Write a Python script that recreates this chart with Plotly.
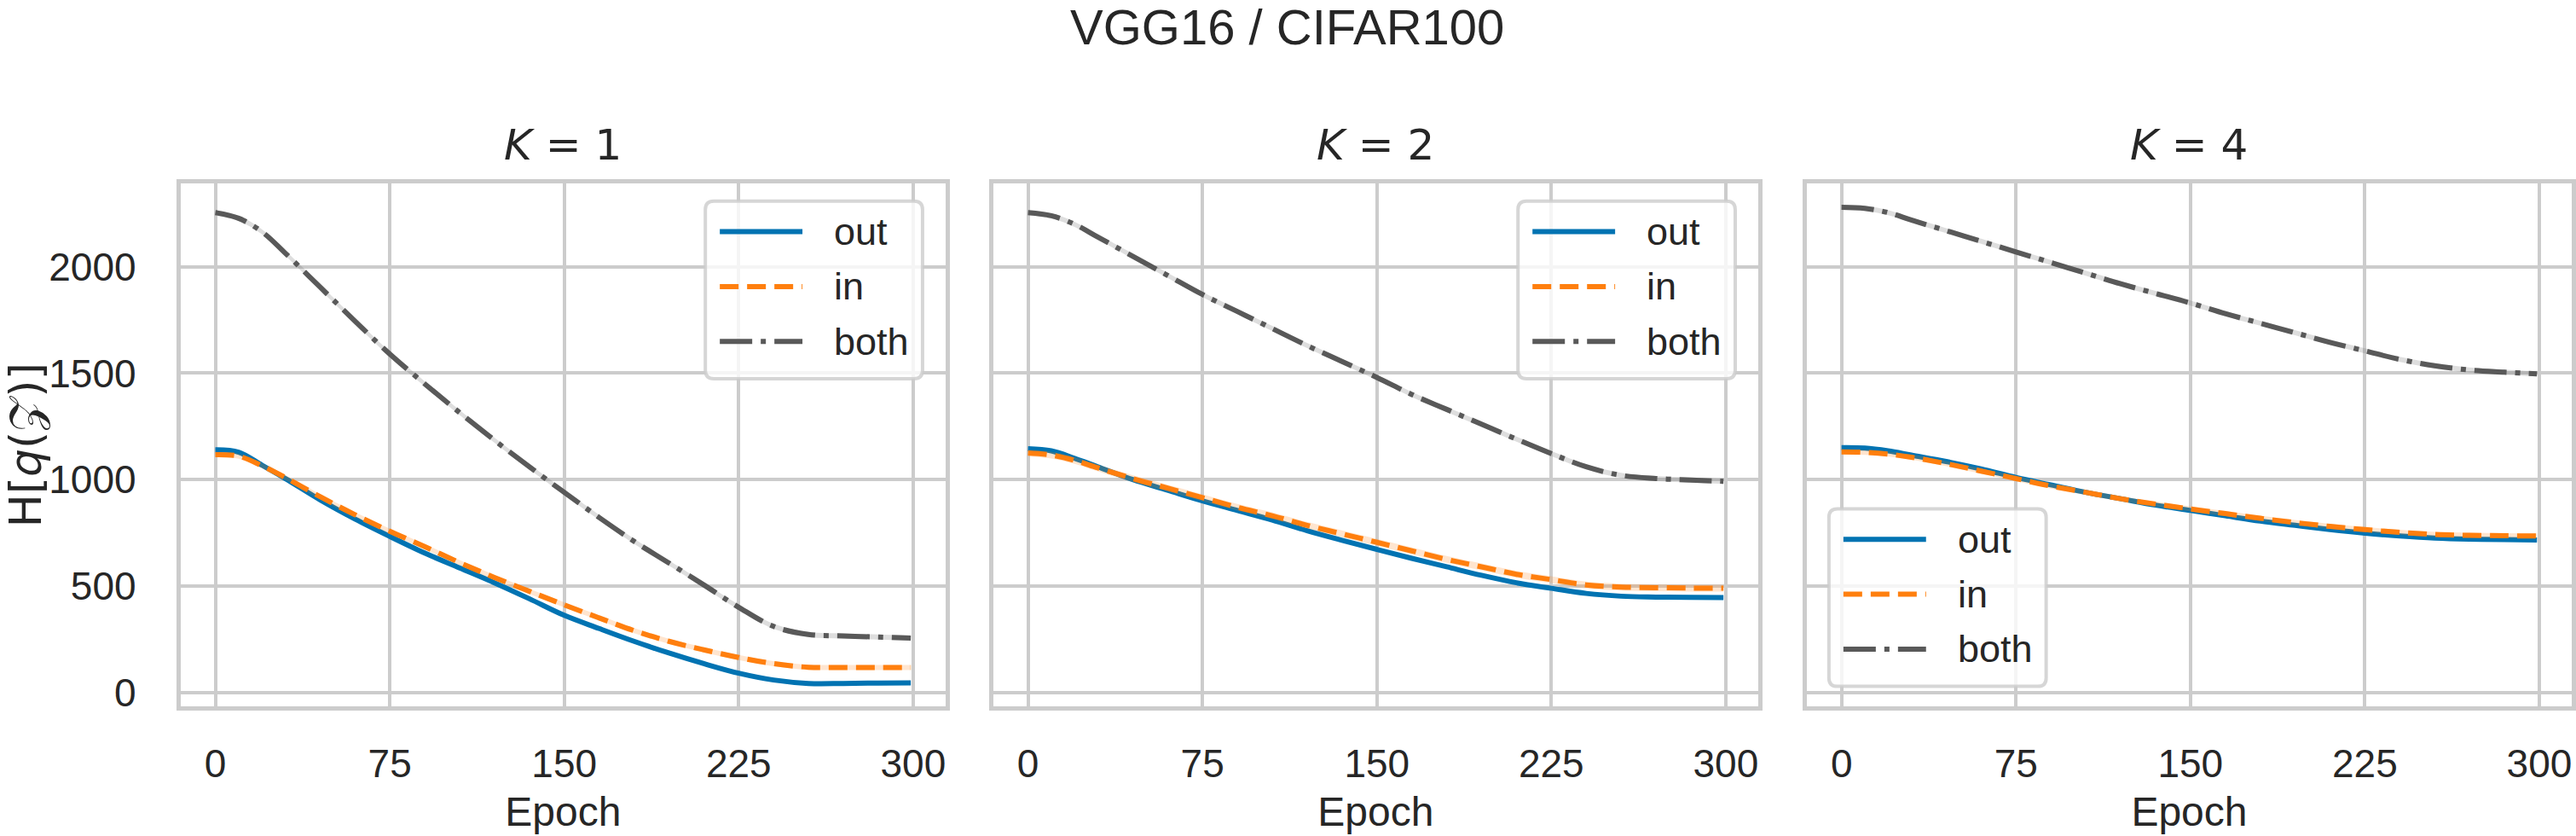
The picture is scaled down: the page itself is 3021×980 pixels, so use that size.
import plotly.graph_objects as go

W, H = 3021, 980

# ---------------- data ----------------
epochs = [0, 10, 20, 30, 45, 60, 75, 90, 105, 120, 135, 150, 165, 180, 195, 210,
          225, 240, 255, 270, 285, 299]

k_labels = ["1", "2", "4"]

out_k1 = [1140, 1129, 1068, 1005, 905, 815, 733, 655, 585, 515, 440, 362, 300, 240,
          185, 135, 90, 58, 42, 42, 44, 45]
in_k1 = [1117, 1110, 1065, 1010, 920, 835, 757, 685, 610, 540, 475, 411, 350, 290,
         240, 200, 164, 135, 118, 117, 117, 117]
both_k1 = [2255, 2228, 2165, 2065, 1905, 1745, 1590, 1450, 1315, 1185, 1060, 940, 822,
           710, 608, 505, 400, 310, 272, 265, 260, 255]

out_k2 = [1145, 1135, 1100, 1060, 1000, 950, 900, 855, 810, 760, 715, 672, 630, 590,
          550, 515, 489, 465, 452, 448, 446, 445]
in_k2 = [1125, 1115, 1090, 1055, 1005, 960, 915, 870, 830, 785, 745, 705, 665, 625,
         590, 555, 530, 505, 495, 492, 490, 490]
both_k2 = [2255, 2240, 2200, 2140, 2050, 1960, 1870, 1790, 1710, 1630, 1555, 1480, 1400,
           1330, 1260, 1190, 1122, 1060, 1020, 1005, 998, 992]

out_k4 = [1150, 1148, 1135, 1115, 1085, 1050, 1010, 975, 940, 910, 880, 855, 830, 805,
          785, 765, 748, 735, 725, 720, 718, 716]
in_k4 = [1130, 1128, 1120, 1105, 1075, 1040, 1005, 970, 940, 910, 885, 862, 840, 818,
         798, 780, 765, 752, 742, 738, 736, 735]
both_k4 = [2280, 2275, 2255, 2220, 2170, 2120, 2070, 2020, 1970, 1920, 1875, 1830, 1780,
           1735, 1690, 1645, 1605, 1565, 1535, 1515, 1505, 1497]

# half-width of the faint confidence band around each curve (data units)
band_out = [8, 8, 8]
band_in = [12, 16, 12]
band_both = [12, 12, 12]

series_names = ["out", "in", "both"]
x_ticks = [0, 75, 150, 225, 300]
y_ticks = [0, 500, 1000, 1500, 2000]

# ---------------- styling ----------------
COLORS = {"out": "#0173b2", "in": "#ff7f0e", "both": "#595959"}
BAND = {"out": "rgba(1,115,178,0.2)", "in": "rgba(255,127,14,0.2)",
        "both": "rgba(89,89,89,0.2)"}
DASH = {"out": "solid", "in": "22px,10px", "both": "38px,10px,6px,10px"}
LW = 6
TXT = "#262626"
GRID = "#cccccc"
FONT = "Arial, Liberation Sans, sans-serif"


def px(x):
    return x / W


def py(y):
    return 1 - y / H


panel_px = [(212, 1110), (1166, 2064), (2121, 3019)]
y_dom = [py(836), py(217)]
x_range = [-14.95, 313.95]
y_range = [-67, 2392]

data = [
    {"out": out_k1, "in": in_k1, "both": both_k1},
    {"out": out_k2, "in": in_k2, "both": both_k2},
    {"out": out_k4, "in": in_k4, "both": both_k4},
]
bands = [
    {"out": band_out[i], "in": band_in[i], "both": band_both[i]} for i in range(3)
]

fig = go.Figure()

for i in range(3):
    xa = "x" if i == 0 else f"x{i + 1}"
    ya = "y" if i == 0 else f"y{i + 1}"
    for name in series_names:
        vals = data[i][name]
        hw = bands[i][name]
        fig.add_trace(go.Scatter(
            x=epochs, y=[v + hw for v in vals], xaxis=xa, yaxis=ya, mode="lines",
            line=dict(width=0, shape="spline", color=COLORS[name]),
            showlegend=False, hoverinfo="skip"))
        fig.add_trace(go.Scatter(
            x=epochs, y=[v - hw for v in vals], xaxis=xa, yaxis=ya, mode="lines",
            line=dict(width=0, shape="spline", color=COLORS[name]),
            fill="tonexty", fillcolor=BAND[name], showlegend=False, hoverinfo="skip"))
        fig.add_trace(go.Scatter(
            x=epochs, y=vals, xaxis=xa, yaxis=ya, mode="lines", name=name,
            line=dict(width=LW, shape="spline", color=COLORS[name], dash=DASH[name]),
            showlegend=False))

axis_common = dict(
    showgrid=True, gridcolor=GRID, gridwidth=4, zeroline=False,
    showline=True, linecolor=GRID, linewidth=5, mirror=True,
    ticks="", tickfont=dict(family=FONT, size=46, color=TXT),
)

layout = dict(
    width=W, height=H, margin=dict(l=0, r=0, t=0, b=0),
    paper_bgcolor="white", plot_bgcolor="white", showlegend=False,
)
for i, (x0, x1) in enumerate(panel_px):
    xk = "xaxis" if i == 0 else f"xaxis{i + 1}"
    yk = "yaxis" if i == 0 else f"yaxis{i + 1}"
    ya_name = "y" if i == 0 else f"y{i + 1}"
    xa_name = "x" if i == 0 else f"x{i + 1}"
    layout[xk] = dict(
        axis_common, domain=[px(x0), px(x1)], range=x_range, anchor=ya_name,
        tickvals=x_ticks, ticklabelstandoff=22,
        title=dict(text="Epoch", font=dict(family=FONT, size=48, color=TXT), standoff=16),
    )
    ydict = dict(
        axis_common, domain=y_dom, range=y_range, anchor=xa_name,
        tickvals=y_ticks, showticklabels=(i == 0), ticklabelstandoff=38,
    )
    if i == 0:
        ydict["title"] = dict(text="H[<i>q</i>(\U0001D4B5)]",
                              font=dict(family="DejaVu Sans", size=52, color=TXT),
                              standoff=14)
    layout[yk] = ydict

fig.update_layout(**layout)

# suptitle and panel titles
fig.add_annotation(text="VGG16 / CIFAR100", x=0.5, y=py(32), xref="paper", yref="paper",
                   showarrow=False, xanchor="center", yanchor="middle",
                   font=dict(family=FONT, size=58, color=TXT))
for i, (x0, x1) in enumerate(panel_px):
    fig.add_annotation(text=f"<i>K</i> = {k_labels[i]}", x=px((x0 + x1) / 2), y=py(172),
                       xref="paper", yref="paper", showarrow=False,
                       xanchor="center", yanchor="middle",
                       font=dict(family="DejaVu Sans", size=50, color=TXT))

# legends (one per panel), drawn as boxes with line samples and text labels
legend_boxes = [(828, 238), (1782, 238), (2147, 602)]
LB_W, LB_H, R = 255, 210, 10
row_off = [36, 101, 166]


def rounded_rect(x0, y0, w, h, r):
    pts = [
        f"M {px(x0 + r)},{py(y0)}",
        f"L {px(x0 + w - r)},{py(y0)}",
        f"Q {px(x0 + w)},{py(y0)} {px(x0 + w)},{py(y0 + r)}",
        f"L {px(x0 + w)},{py(y0 + h - r)}",
        f"Q {px(x0 + w)},{py(y0 + h)} {px(x0 + w - r)},{py(y0 + h)}",
        f"L {px(x0 + r)},{py(y0 + h)}",
        f"Q {px(x0)},{py(y0 + h)} {px(x0)},{py(y0 + h - r)}",
        f"L {px(x0)},{py(y0 + r)}",
        f"Q {px(x0)},{py(y0)} {px(x0 + r)},{py(y0)}",
        "Z",
    ]
    return " ".join(pts)


for (lx, ly) in legend_boxes:
    fig.add_shape(type="path", path=rounded_rect(lx, ly, LB_W, LB_H, R),
                  xref="paper", yref="paper", layer="above",
                  fillcolor="rgba(255,255,255,0.8)",
                  line=dict(color="rgba(204,204,204,0.8)", width=4))
    for name, off in zip(series_names, row_off):
        yy = ly + off
        fig.add_shape(type="line", xref="paper", yref="paper", layer="above",
                      x0=px(lx + 17), x1=px(lx + 114), y0=py(yy), y1=py(yy),
                      line=dict(color=COLORS[name], width=LW, dash=DASH[name]))
        fig.add_annotation(text=name, x=px(lx + 149), y=py(yy), xref="paper",
                           yref="paper", showarrow=False, xanchor="left",
                           yanchor="middle",
                           font=dict(family=FONT, size=45, color=TXT))

fig.write_html("out.html")
